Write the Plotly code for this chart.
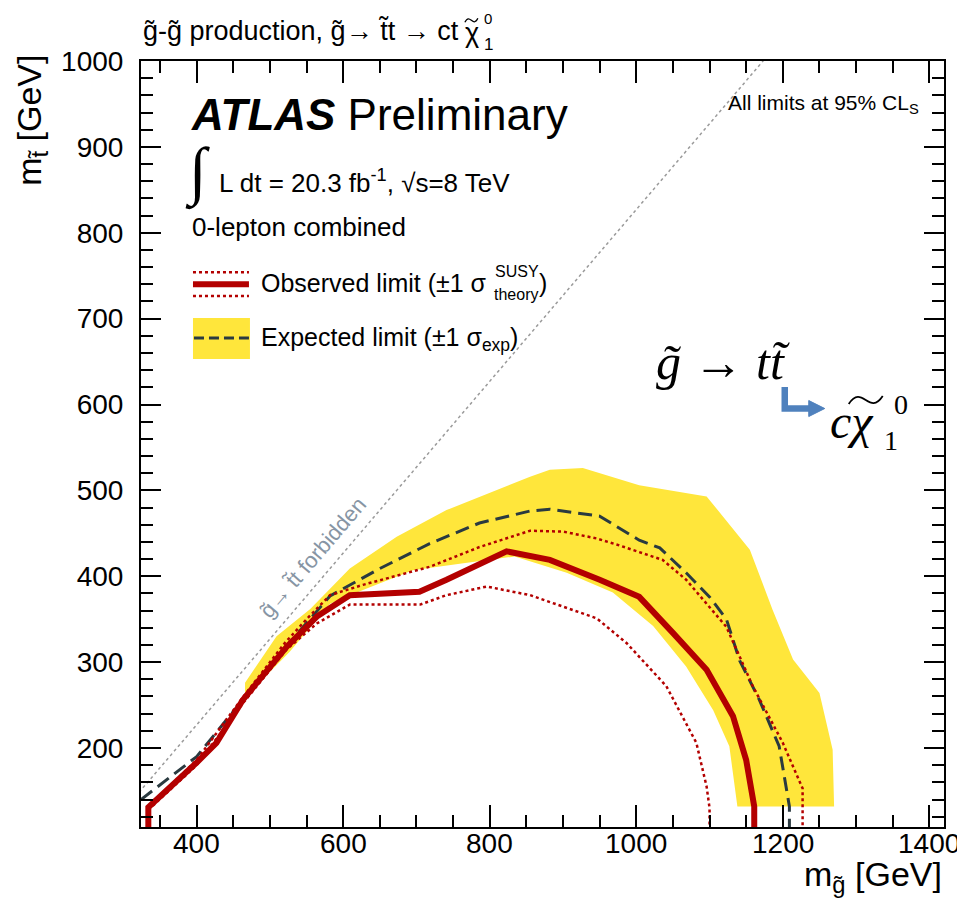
import plotly.graph_objects as go

# ---------------- data (GeV) ----------------
obs_x = [334, 334, 400, 427, 463, 523, 564, 609, 704, 741, 823, 882, 950, 1004, 1050, 1096, 1132, 1150, 1161, 1161]
obs_y = [108, 131, 183, 206, 256, 318, 353, 378, 382, 396, 429, 419, 396, 376, 334, 291, 237, 186, 132, 108]

theo_up_x = [336, 400, 463, 520, 550, 582, 627, 718, 786, 855, 900, 946, 973, 1036, 1068, 1123, 1159, 1200, 1227, 1227]
theo_up_y = [133, 186, 259, 322, 350, 378, 390, 411, 434, 453, 452, 444, 437, 419, 396, 341, 272, 206, 153, 108]

theo_dn_x = [334, 400, 463, 523, 564, 609, 705, 741, 796, 855, 946, 987, 1041, 1082, 1096, 1100, 1100]
theo_dn_y = [128, 180, 252, 315, 345, 367, 367, 378, 388, 378, 351, 322, 272, 206, 155, 130, 108]

exp_x = [324, 400, 459, 518, 582, 650, 718, 786, 855, 882, 950, 1004, 1032, 1068, 1100, 1123, 1141, 1168, 1195, 1209, 1209]
exp_y = [140, 190, 252, 314, 377, 409, 438, 462, 476, 478, 470, 442, 433, 404, 376, 350, 302, 256, 202, 132, 108]

band_up_x = [466, 466, 509, 555, 609, 673, 741, 809, 855, 882, 927, 1004, 1096, 1155, 1186, 1214, 1250, 1268, 1270]
band_up_y = [256, 276, 330, 362, 409, 446, 477, 500, 516, 524, 526, 506, 493, 431, 361, 303, 264, 198, 132]
band_lo_x = [1138, 1127, 1105, 1068, 1023, 968, 905, 834, 764, 695, 627, 582, 527, 491]
band_lo_y = [132, 202, 244, 295, 342, 381, 404, 423, 415, 407, 384, 368, 312, 281]

m_top = 173
diag_x = [300, 1200]

x_range = [324, 1420]
y_range = [108, 1000]
x_tick_vals = [400, 600, 800, 1000, 1200, 1400]
x_tick_text = ["400", "600", "800", "1000", "1200", "1400"]

# ---------------- helpers (page pixel -> paper) ----------------
X0, X1 = 141.0, 944.3
Y0, Y1 = 60.7, 827.3
def px(x):
    return (x - X0) / (X1 - X0)
def py(y):
    return (Y1 - y) / (Y1 - Y0)

RED = "#b30000"
DARK = "#2a3a40"
YEL = "#ffe63b"
FONT = "Liberation Sans"
SERIF = "Liberation Serif"

fig = go.Figure()

fig.add_trace(go.Scatter(
    x=band_up_x + band_lo_x, y=band_up_y + band_lo_y,
    fill="toself", fillcolor=YEL, line=dict(width=0), mode="lines",
    hoverinfo="skip", showlegend=False))

fig.add_trace(go.Scatter(
    x=diag_x, y=[v - m_top for v in diag_x], mode="lines",
    line=dict(color="#9a9a9a", width=1.5, dash="dot"), showlegend=False))

fig.add_trace(go.Scatter(
    x=exp_x, y=exp_y, mode="lines",
    line=dict(color=DARK, width=3, dash="14px,7px"), showlegend=False))

fig.add_trace(go.Scatter(
    x=theo_up_x, y=theo_up_y, mode="lines",
    line=dict(color=RED, width=2.5, dash="dot"), showlegend=False))
fig.add_trace(go.Scatter(
    x=theo_dn_x, y=theo_dn_y, mode="lines",
    line=dict(color=RED, width=2.5, dash="dot"), showlegend=False))

fig.add_trace(go.Scatter(
    x=obs_x, y=obs_y, mode="lines",
    line=dict(color=RED, width=6), showlegend=False))

axis_common = dict(
    showline=True, linecolor="black", linewidth=2, mirror="ticks",
    ticks="inside", tickcolor="black", tickwidth=1.5,
    showgrid=False, zeroline=False, automargin=False,
    tickfont=dict(family=FONT, size=28, color="black"),
)

fig.update_xaxes(range=x_range, tickvals=x_tick_vals, showticklabels=False, ticklen=22,
                 minor=dict(dtick=50, tick0=0, ticklen=12, ticks="inside", tickcolor="black", tickwidth=1.5, showgrid=False),
                 **axis_common)
fig.update_yaxes(range=y_range, dtick=100, tick0=0, ticklen=20,
                 minor=dict(dtick=20, ticklen=12, ticks="inside", tickcolor="black", tickwidth=1.5, showgrid=False),
                 ticklabelstandoff=10,
                 **axis_common)

shapes = []
# legend symbols
shapes.append(dict(type="line", xref="paper", yref="paper", x0=px(193), x1=px(249), y0=py(272), y1=py(272),
                   line=dict(color=RED, width=2.5, dash="dot")))
shapes.append(dict(type="line", xref="paper", yref="paper", x0=px(193), x1=px(249), y0=py(284), y1=py(284),
                   line=dict(color=RED, width=6)))
shapes.append(dict(type="line", xref="paper", yref="paper", x0=px(193), x1=px(249), y0=py(296), y1=py(296),
                   line=dict(color=RED, width=2.5, dash="dot")))
shapes.append(dict(type="rect", xref="paper", yref="paper", x0=px(193), x1=px(250), y0=py(359), y1=py(318),
                   fillcolor=YEL, line=dict(width=0), layer="above"))
shapes.append(dict(type="line", xref="paper", yref="paper", x0=px(194), x1=px(249), y0=py(338), y1=py(338),
                   line=dict(color=DARK, width=3, dash="10px,5px")))
# blue decay arrow
BLUE = "#4f81bd"
shapes.append(dict(type="path", xref="paper", yref="paper",
                   path="M {0},{1} L {2},{3} L {4},{5}".format(px(785), py(387), px(785), py(408.5), px(812), py(408.5)),
                   line=dict(color=BLUE, width=6.5)))
shapes.append(dict(type="path", xref="paper", yref="paper",
                   path="M {0},{1} L {2},{3} L {4},{5} Z".format(px(809), py(400.5), px(825), py(408.5), px(809), py(416.5)),
                   fillcolor=BLUE, line=dict(color=BLUE, width=1)))
# wide tilde over chi in decay label
def tilde(x0, x1, yc, amp, width):
    xm = (x0 + x1) / 2.0
    q = (x1 - x0) / 4.0
    return dict(type="path", xref="paper", yref="paper",
                path="M {0},{1} C {2},{3} {4},{5} {6},{7} S {8},{9} {10},{11}".format(
                    px(x0), py(yc + amp), px(x0 + q * 0.8), py(yc - amp * 1.6), px(xm - q * 0.6), py(yc - amp * 0.8),
                    px(xm), py(yc), px(x1 - q * 0.8), py(yc + amp * 1.6), px(x1), py(yc - amp)),
                line=dict(color="black", width=width))
shapes.append(tilde(849, 883, 400, 4, 1.8))
shapes.append(tilde(465, 478, 20, 2, 1.3))

ann = []
def A(text, x, y, size, xanchor="left", yanchor="middle", family=FONT, color="black", angle=0, style="normal",
      xref="paper"):
    ann.append(dict(text=text, x=(px(x) if xref == "paper" else x), y=py(y), xref=xref, yref="paper",
                    showarrow=False, xanchor=xanchor, yanchor=yanchor, textangle=angle,
                    font=dict(family=family, size=size, color=color, style=style)))

# x tick labels placed on the x scale
for v, t in zip(x_tick_vals, x_tick_text):
    A(t, v, 844, 28, xanchor="center", xref="x")

A("g\u0303-g\u0303 production, g\u0303\u2192 t\u0303t \u2192 ct", 141, 31, 27)
A("\u03c7", 463, 33, 27)
A("1", 482, 44, 17)
A("0", 482, 18.5, 15)
A("<b><i>ATLAS</i></b> Preliminary", 189, 114, 44)
A("\u222b", 198, 172, 64, xanchor="center", family=SERIF)
A("L dt = 20.3 fb<sup>-1</sup>, \u221as=8 TeV", 217, 181, 26)
A("0-lepton combined", 190, 227, 26)
A("Observed limit (\u00b11 \u03c3", 259, 283, 25)
A("SUSY", 493, 271, 16)
A("theory", 492, 294, 16)
A(")", 537, 283, 25)
A("Expected limit (\u00b11 \u03c3<sub>exp</sub>)", 259, 339, 25)
A("All limits at 95% CL<sub>S</sub>", 921, 104, 21, xanchor="right")
A("g\u0303\u2192 t\u0303t forbidden", 313, 558, 22, xanchor="center", color="#8795a4", angle=-49.5)
A("g\u0303 \u2192 tt\u0303", 654, 362, 50, family=SERIF, style="italic")
A("c\u03c7", 828, 421, 48, family=SERIF, style="italic")
A("1", 882, 440, 28, family=SERIF)
A("0", 892, 404, 28, family=SERIF)
A("m<sub>g\u0303</sub> [GeV]", 944, 877, 34, xanchor="right")
A("m<sub>t\u0303</sub> [GeV]", 32, 53, 34, xanchor="center", yanchor="top", angle=-90)

# page has an 8px body margin: figure is 8px smaller and margins shifted so the
# plot area lands at page pixels (141..944, 61..827)
fig.update_layout(
    width=957, height=903,
    margin=dict(l=133, r=21, t=53, b=84),
    plot_bgcolor="white", paper_bgcolor="white",
    shapes=shapes, annotations=ann,
    showlegend=False,
    font=dict(family=FONT, color="black"),
)

fig.write_html("out.html")
